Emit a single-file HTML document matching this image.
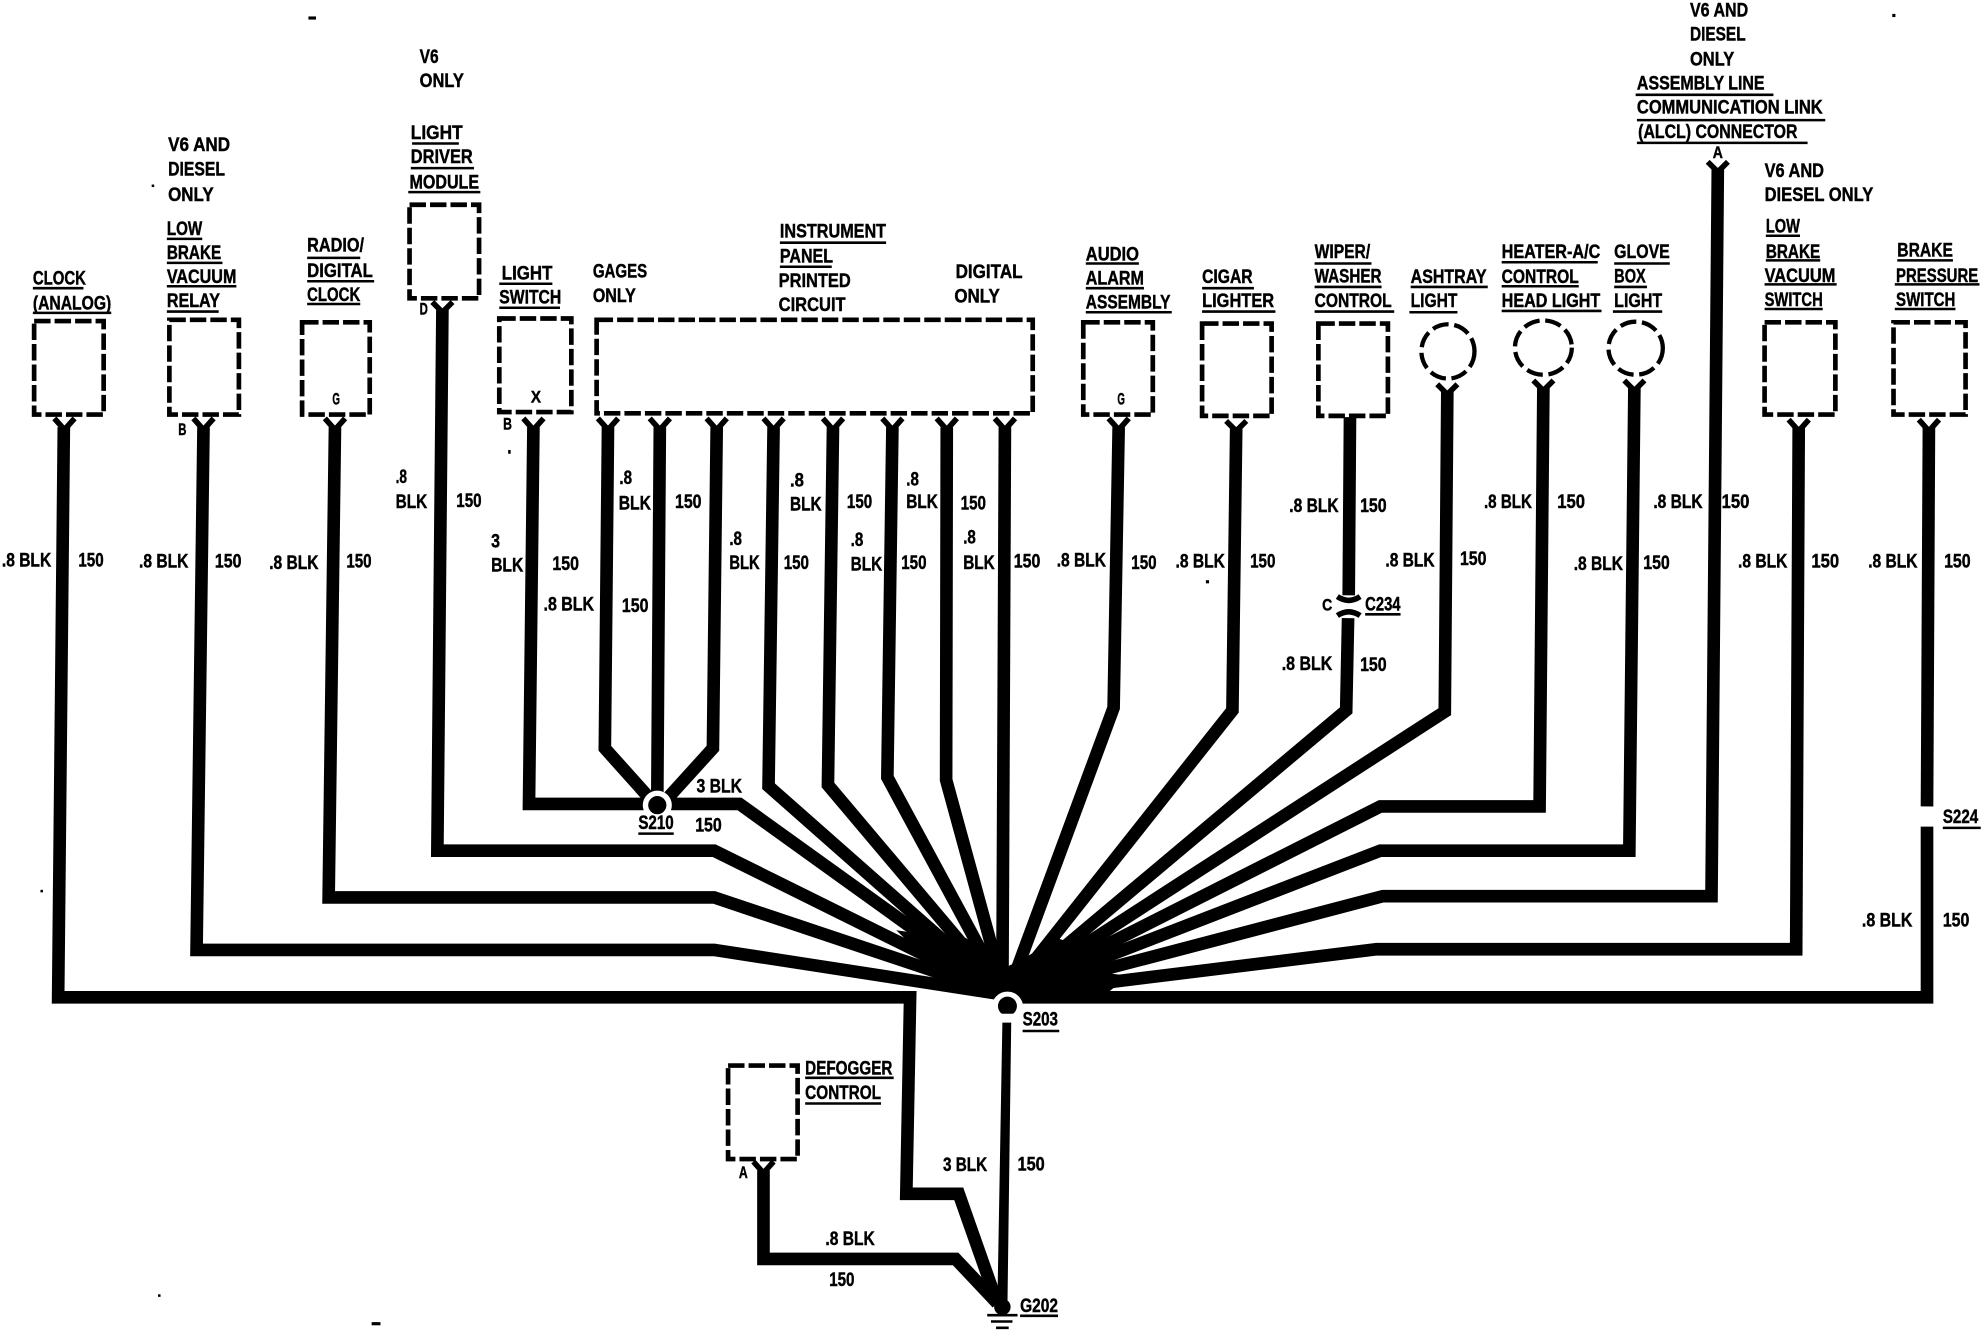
<!DOCTYPE html>
<html><head><meta charset="utf-8"><title>Ground distribution diagram</title>
<style>
html,body{margin:0;padding:0;background:#fff}
svg{display:block;width:1982px;height:1344px}
text{font-family:"Liberation Sans",sans-serif;font-weight:bold;font-size:15.5px;fill:#000;stroke:#000;stroke-width:.35px}
.s{font-size:13.5px}
</style></head><body>
<svg xmlns="http://www.w3.org/2000/svg" viewBox="0 0 1568 1063.3" preserveAspectRatio="none">
<rect width="1568" height="1064" fill="#fff"/>
<!-- boxes -->
<g fill="none" stroke="#000" stroke-width="3.7" stroke-dasharray="13 3.2">
<rect x="27" y="254" width="55" height="74"/>
<rect x="134" y="253" width="55" height="75"/>
<rect x="239" y="255" width="53.5" height="73"/>
<rect x="324" y="162" width="55" height="74"/>
<rect x="395" y="252" width="57" height="74"/>
<rect x="472" y="253" width="345" height="74"/>
<rect x="857" y="255" width="55" height="73"/>
<rect x="951" y="256" width="55" height="73"/>
<rect x="1043" y="256" width="55" height="73"/>
<rect x="1396" y="255" width="56" height="73"/>
<rect x="1498" y="255" width="57" height="73"/>
<rect x="576" y="843" width="55" height="74"/>
</g>
<g fill="none" stroke="#000" stroke-width="3.4" stroke-dasharray="13 4.5">
<ellipse cx="1145.5" cy="278" rx="21" ry="21.5"/>
<ellipse cx="1221" cy="275" rx="22.5" ry="21.5"/>
<ellipse cx="1294" cy="275.5" rx="21.5" ry="21"/>
</g>
<!-- wires -->
<g fill="none" stroke="#000" stroke-width="10" stroke-linejoin="miter">
<path d="M50.5,338 L46,789 H720 L717,944.5 H758.5 L789,1031"/>
<path d="M161,338 L155.5,751.5 H565 L795,787"/>
<path d="M265,338 L260,710 H565 L795,787"/>
<path d="M350,245 L346,673 H565 L795,787"/>
<path d="M422,338 L418.5,636 H510"/>
<path d="M528,636 H585 L795,787"/>
<path d="M481,338 L478.5,592 L517,635"/>
<path d="M522,338 L520,630"/>
<path d="M567,338 L564,592 L525,635"/>
<path d="M612,338 L608,622 L795,787"/>
<path d="M659,338 L655,621 L795,787"/>
<path d="M706,338 L702,615 L795,787"/>
<path d="M749,338 L748.5,617 L795,787"/>
<path d="M795,338 L793,787"/>
<path d="M885,338 L881,560 L797,787"/>
<path d="M978,338 L975,562 L797,787"/>
<path d="M1068,330 L1067,471"/>
<path d="M1066.5,489 L1065,562 L797,787"/>
<path d="M1145,310 L1143,563 L797,787"/>
<path d="M1221,306 L1218,638 H1092 L797,787"/>
<path d="M1293,306 L1289,673 H1092 L797,787"/>
<path d="M1359,133 L1354,709 H1094 L797,787"/>
<path d="M1423,338 L1421,751 H1089 L797,787"/>
<path d="M1526,338 L1524.5,638"/>
<path d="M1524.5,654 V789 H800"/>
<path d="M604,926 V996 H756 L789,1031"/>
</g>
<!-- solid wedge where the fan of wires merges -->
<polygon fill="#000" points="754,775 731,757 709,736 716,737 752,745 764,742 782,755 796,765 809,759 836,742 858,750 856,763 868,769 893,772 878,784 800,790 770,785"/>
<circle cx="520" cy="637" r="11.5" fill="#fff"/>
<circle cx="520" cy="637" r="7.2" fill="#000"/>
<circle cx="797" cy="797" r="12.5" fill="#fff"/>
<circle cx="797" cy="796" r="7.5" fill="#000"/>
<path d="M791,802 H803 V809 H791Z" fill="#fff"/>
<polygon points="793,809 800,809 797,1034 789,1034" fill="#000"/>
<circle cx="793" cy="1034" r="6.5" fill="#000"/>
<!-- Y connectors -->
<g fill="none" stroke="#000" stroke-width="4.4">
<path d="M43,331 L51,340 L59,331"/>
<path d="M153,331 L161,340 L169,331"/>
<path d="M257,331 L265,340 L273,331"/>
<path d="M342,239 L350,247 L358,239"/>
<path d="M414,331 L422,340 L430,331"/>
<path d="M473,331 L481,340 L489,331"/>
<path d="M514,331 L522,340 L530,331"/>
<path d="M559,331 L567,340 L575,331"/>
<path d="M604,331 L612,340 L620,331"/>
<path d="M651,331 L659,340 L667,331"/>
<path d="M698,331 L706,340 L714,331"/>
<path d="M741,331 L749,340 L757,331"/>
<path d="M787,331 L795,340 L803,331"/>
<path d="M877,331 L885,340 L893,331"/>
<path d="M970,333 L978,341 L986,333"/>
<path d="M1137,304 L1145,312 L1153,304"/>
<path d="M1213,301 L1221,309 L1229,301"/>
<path d="M1285,301 L1293,309 L1301,301"/>
<path d="M1351,128 L1359,136 L1367,128"/>
<path d="M1415,332 L1423,341 L1431,332"/>
<path d="M1518,332 L1526,341 L1534,332"/>
<path d="M596,919 L604,928 L612,919"/>
<path d="M1058,472 Q1067,478 1076,472"/>
<path d="M1058,487 Q1067,481 1076,487"/>
</g>
<!-- underlines -->
<path fill="none" stroke="#000" stroke-width="2" d="
M26,228H66 M26,247.5H88
M132,189H160 M132,208H176 M132,226.5H187 M132,246.5H173
M243,204H285 M243,222.5H296 M243,240.5H285
M326,113.5H363 M325,133H375 M323,152H380
M395,224.5H437 M395,243.5H443
M617,192H701 M617,211H658
M859,208.5H901 M859,228H905 M859,247H927
M951,228H992 M951,246.5H1009
M1040,208.5H1085 M1040,227H1093 M1040,246.5H1103
M1116,227H1177 M1115,247H1153
M1188,207.5H1264 M1188,226.5H1249 M1188,246H1267
M1277,208.5H1321 M1277,227H1303 M1276,246.5H1315
M1294,75H1403 M1295,95H1444 M1295,113H1430
M1397,186.5H1424 M1397,206H1440 M1396,225H1453 M1396,244.5H1442
M1501,206H1545 M1499,225H1566 M1499,244.5H1547
M505,659.5H533 M809,815.7H838 M637,852.7H707 M637,873H697
M807,1041H837 M1080,486H1108 M1537,655H1567
M781,1040.5H805 M784,1045.5H801 M788,1050.5H798"/>
<!-- headings -->
<text x="26" y="225" textLength="42" lengthAdjust="spacingAndGlyphs">CLOCK</text>
<text x="26" y="245" textLength="62" lengthAdjust="spacingAndGlyphs">(ANALOG)</text>
<text x="133" y="119.5" textLength="49" lengthAdjust="spacingAndGlyphs">V6 AND</text>
<text x="133" y="139" textLength="45" lengthAdjust="spacingAndGlyphs">DIESEL</text>
<text x="133" y="159" textLength="36" lengthAdjust="spacingAndGlyphs">ONLY</text>
<text x="132" y="186" textLength="28" lengthAdjust="spacingAndGlyphs">LOW</text>
<text x="132" y="205" textLength="43" lengthAdjust="spacingAndGlyphs">BRAKE</text>
<text x="132" y="224" textLength="55" lengthAdjust="spacingAndGlyphs">VACUUM</text>
<text x="132" y="243" textLength="42" lengthAdjust="spacingAndGlyphs">RELAY</text>
<text x="243" y="199" textLength="45" lengthAdjust="spacingAndGlyphs">RADIO/</text>
<text x="243" y="219" textLength="52" lengthAdjust="spacingAndGlyphs">DIGITAL</text>
<text x="243" y="238" textLength="42" lengthAdjust="spacingAndGlyphs">CLOCK</text>
<text x="332" y="50" textLength="15" lengthAdjust="spacingAndGlyphs">V6</text>
<text x="332" y="69" textLength="35" lengthAdjust="spacingAndGlyphs">ONLY</text>
<text x="325" y="110" textLength="41" lengthAdjust="spacingAndGlyphs">LIGHT</text>
<text x="325" y="129" textLength="49" lengthAdjust="spacingAndGlyphs">DRIVER</text>
<text x="324" y="149" textLength="55" lengthAdjust="spacingAndGlyphs">MODULE</text>
<text x="397" y="221" textLength="40" lengthAdjust="spacingAndGlyphs">LIGHT</text>
<text x="395" y="240" textLength="49" lengthAdjust="spacingAndGlyphs">SWITCH</text>
<text x="469" y="219.5" textLength="43" lengthAdjust="spacingAndGlyphs">GAGES</text>
<text x="469" y="239" textLength="34" lengthAdjust="spacingAndGlyphs">ONLY</text>
<text x="617" y="188" textLength="84" lengthAdjust="spacingAndGlyphs">INSTRUMENT</text>
<text x="617" y="207.5" textLength="42" lengthAdjust="spacingAndGlyphs">PANEL</text>
<text x="616" y="227" textLength="57" lengthAdjust="spacingAndGlyphs">PRINTED</text>
<text x="616" y="246" textLength="53" lengthAdjust="spacingAndGlyphs">CIRCUIT</text>
<text x="756" y="220" textLength="53" lengthAdjust="spacingAndGlyphs">DIGITAL</text>
<text x="755" y="239.5" textLength="36" lengthAdjust="spacingAndGlyphs">ONLY</text>
<text x="859" y="206" textLength="42" lengthAdjust="spacingAndGlyphs">AUDIO</text>
<text x="859" y="225" textLength="46" lengthAdjust="spacingAndGlyphs">ALARM</text>
<text x="859" y="244" textLength="67" lengthAdjust="spacingAndGlyphs">ASSEMBLY</text>
<text x="951" y="224" textLength="40" lengthAdjust="spacingAndGlyphs">CIGAR</text>
<text x="951" y="243" textLength="57" lengthAdjust="spacingAndGlyphs">LIGHTER</text>
<text x="1040" y="204" textLength="44" lengthAdjust="spacingAndGlyphs">WIPER/</text>
<text x="1040" y="223.5" textLength="53" lengthAdjust="spacingAndGlyphs">WASHER</text>
<text x="1040" y="243" textLength="61" lengthAdjust="spacingAndGlyphs">CONTROL</text>
<text x="1116" y="224" textLength="60" lengthAdjust="spacingAndGlyphs">ASHTRAY</text>
<text x="1116" y="243" textLength="37" lengthAdjust="spacingAndGlyphs">LIGHT</text>
<text x="1188" y="204" textLength="78" lengthAdjust="spacingAndGlyphs">HEATER-A/C</text>
<text x="1188" y="224" textLength="61" lengthAdjust="spacingAndGlyphs">CONTROL</text>
<text x="1188" y="243" textLength="78" lengthAdjust="spacingAndGlyphs">HEAD LIGHT</text>
<text x="1277" y="204" textLength="44" lengthAdjust="spacingAndGlyphs">GLOVE</text>
<text x="1277" y="223.5" textLength="25" lengthAdjust="spacingAndGlyphs">BOX</text>
<text x="1277" y="243" textLength="38" lengthAdjust="spacingAndGlyphs">LIGHT</text>
<text x="1337" y="13" textLength="46" lengthAdjust="spacingAndGlyphs">V6 AND</text>
<text x="1337" y="32" textLength="44" lengthAdjust="spacingAndGlyphs">DIESEL</text>
<text x="1337" y="52" textLength="35" lengthAdjust="spacingAndGlyphs">ONLY</text>
<text x="1295" y="71" textLength="101" lengthAdjust="spacingAndGlyphs">ASSEMBLY LINE</text>
<text x="1295" y="90" textLength="147" lengthAdjust="spacingAndGlyphs">COMMUNICATION LINK</text>
<text x="1296" y="109" textLength="126" lengthAdjust="spacingAndGlyphs">(ALCL) CONNECTOR</text>
<text x="1396" y="140" textLength="47" lengthAdjust="spacingAndGlyphs">V6 AND</text>
<text x="1396" y="159" textLength="86" lengthAdjust="spacingAndGlyphs">DIESEL ONLY</text>
<text x="1397" y="184" textLength="27" lengthAdjust="spacingAndGlyphs">LOW</text>
<text x="1397" y="204" textLength="43" lengthAdjust="spacingAndGlyphs">BRAKE</text>
<text x="1396" y="223" textLength="56" lengthAdjust="spacingAndGlyphs">VACUUM</text>
<text x="1396" y="242" textLength="46" lengthAdjust="spacingAndGlyphs">SWITCH</text>
<text x="1501" y="203" textLength="44" lengthAdjust="spacingAndGlyphs">BRAKE</text>
<text x="1500" y="223" textLength="65" lengthAdjust="spacingAndGlyphs">PRESSURE</text>
<text x="1500" y="242" textLength="47" lengthAdjust="spacingAndGlyphs">SWITCH</text>
<text x="637" y="850" textLength="69" lengthAdjust="spacingAndGlyphs">DEFOGGER</text>
<text x="637" y="869.6" textLength="60" lengthAdjust="spacingAndGlyphs">CONTROL</text>
<!-- pin letters -->
<text class="s" x="263" y="320" textLength="6" lengthAdjust="spacingAndGlyphs">G</text>
<text class="s" x="884" y="320" textLength="6" lengthAdjust="spacingAndGlyphs">G</text>
<text class="s" x="420" y="318.5" textLength="8" lengthAdjust="spacingAndGlyphs">X</text>
<text class="s" x="141" y="344" textLength="6.5" lengthAdjust="spacingAndGlyphs">B</text>
<text class="s" x="398" y="340" textLength="7" lengthAdjust="spacingAndGlyphs">B</text>
<text class="s" x="332" y="249" textLength="6.5" lengthAdjust="spacingAndGlyphs">D</text>
<text class="s" x="1355" y="125" textLength="8" lengthAdjust="spacingAndGlyphs">A</text>
<text class="s" x="584.5" y="932" textLength="7" lengthAdjust="spacingAndGlyphs">A</text>
<text class="s" x="1046" y="483" textLength="8" lengthAdjust="spacingAndGlyphs">C</text>
<!-- wire labels -->
<text x="1.5" y="448" textLength="39" lengthAdjust="spacingAndGlyphs">.8 BLK</text>
<text x="62" y="448" textLength="20" lengthAdjust="spacingAndGlyphs">150</text>
<text x="110" y="449" textLength="39" lengthAdjust="spacingAndGlyphs">.8 BLK</text>
<text x="170" y="449" textLength="21" lengthAdjust="spacingAndGlyphs">150</text>
<text x="213" y="450" textLength="39" lengthAdjust="spacingAndGlyphs">.8 BLK</text>
<text x="274" y="449" textLength="20" lengthAdjust="spacingAndGlyphs">150</text>
<text x="313" y="382" textLength="9" lengthAdjust="spacingAndGlyphs">.8</text>
<text x="313" y="402" textLength="25" lengthAdjust="spacingAndGlyphs">BLK</text>
<text x="361" y="401" textLength="20" lengthAdjust="spacingAndGlyphs">150</text>
<text x="388.5" y="433" textLength="7" lengthAdjust="spacingAndGlyphs">3</text>
<text x="388.5" y="452" textLength="25.5" lengthAdjust="spacingAndGlyphs">BLK</text>
<text x="437" y="451" textLength="21" lengthAdjust="spacingAndGlyphs">150</text>
<text x="430" y="483" textLength="40" lengthAdjust="spacingAndGlyphs">.8 BLK</text>
<text x="492" y="484" textLength="21" lengthAdjust="spacingAndGlyphs">150</text>
<text x="490" y="383" textLength="10" lengthAdjust="spacingAndGlyphs">.8</text>
<text x="489.5" y="403" textLength="25.5" lengthAdjust="spacingAndGlyphs">BLK</text>
<text x="534" y="402" textLength="21" lengthAdjust="spacingAndGlyphs">150</text>
<text x="577" y="431" textLength="10" lengthAdjust="spacingAndGlyphs">.8</text>
<text x="577" y="450" textLength="24" lengthAdjust="spacingAndGlyphs">BLK</text>
<text x="620" y="450" textLength="20" lengthAdjust="spacingAndGlyphs">150</text>
<text x="625" y="385" textLength="11" lengthAdjust="spacingAndGlyphs">.8</text>
<text x="625" y="404" textLength="25" lengthAdjust="spacingAndGlyphs">BLK</text>
<text x="670" y="402" textLength="20" lengthAdjust="spacingAndGlyphs">150</text>
<text x="673" y="432" textLength="10" lengthAdjust="spacingAndGlyphs">.8</text>
<text x="673" y="451.5" textLength="25" lengthAdjust="spacingAndGlyphs">BLK</text>
<text x="713" y="450" textLength="20" lengthAdjust="spacingAndGlyphs">150</text>
<text x="717" y="384" textLength="10" lengthAdjust="spacingAndGlyphs">.8</text>
<text x="717" y="402" textLength="25" lengthAdjust="spacingAndGlyphs">BLK</text>
<text x="760" y="403" textLength="20" lengthAdjust="spacingAndGlyphs">150</text>
<text x="762" y="430" textLength="10" lengthAdjust="spacingAndGlyphs">.8</text>
<text x="762" y="450" textLength="25" lengthAdjust="spacingAndGlyphs">BLK</text>
<text x="802" y="449" textLength="21" lengthAdjust="spacingAndGlyphs">150</text>
<text x="836" y="448" textLength="39" lengthAdjust="spacingAndGlyphs">.8 BLK</text>
<text x="895" y="450" textLength="20" lengthAdjust="spacingAndGlyphs">150</text>
<text x="930" y="449" textLength="39" lengthAdjust="spacingAndGlyphs">.8 BLK</text>
<text x="989" y="449" textLength="20" lengthAdjust="spacingAndGlyphs">150</text>
<text x="1020" y="405" textLength="39" lengthAdjust="spacingAndGlyphs">.8 BLK</text>
<text x="1076" y="405" textLength="21" lengthAdjust="spacingAndGlyphs">150</text>
<text x="1014" y="530" textLength="40" lengthAdjust="spacingAndGlyphs">.8 BLK</text>
<text x="1076" y="531" textLength="21" lengthAdjust="spacingAndGlyphs">150</text>
<text x="1096" y="448" textLength="39" lengthAdjust="spacingAndGlyphs">.8 BLK</text>
<text x="1155" y="447" textLength="21" lengthAdjust="spacingAndGlyphs">150</text>
<text x="1174" y="402" textLength="38" lengthAdjust="spacingAndGlyphs">.8 BLK</text>
<text x="1232" y="402" textLength="22" lengthAdjust="spacingAndGlyphs">150</text>
<text x="1245" y="451" textLength="39" lengthAdjust="spacingAndGlyphs">.8 BLK</text>
<text x="1300" y="450" textLength="21" lengthAdjust="spacingAndGlyphs">150</text>
<text x="1308" y="402" textLength="39" lengthAdjust="spacingAndGlyphs">.8 BLK</text>
<text x="1362" y="402" textLength="22" lengthAdjust="spacingAndGlyphs">150</text>
<text x="1375" y="449" textLength="39" lengthAdjust="spacingAndGlyphs">.8 BLK</text>
<text x="1433" y="449" textLength="22" lengthAdjust="spacingAndGlyphs">150</text>
<text x="1478" y="449" textLength="39" lengthAdjust="spacingAndGlyphs">.8 BLK</text>
<text x="1538" y="449" textLength="21" lengthAdjust="spacingAndGlyphs">150</text>
<text x="1473" y="733" textLength="40" lengthAdjust="spacingAndGlyphs">.8 BLK</text>
<text x="1537" y="733" textLength="21" lengthAdjust="spacingAndGlyphs">150</text>
<text x="551" y="627" textLength="36" lengthAdjust="spacingAndGlyphs">3 BLK</text>
<text x="550" y="658" textLength="21" lengthAdjust="spacingAndGlyphs">150</text>
<text x="746" y="926.5" textLength="35" lengthAdjust="spacingAndGlyphs">3 BLK</text>
<text x="805" y="926" textLength="21.5" lengthAdjust="spacingAndGlyphs">150</text>
<text x="653" y="985" textLength="39" lengthAdjust="spacingAndGlyphs">.8 BLK</text>
<text x="656" y="1017.5" textLength="20" lengthAdjust="spacingAndGlyphs">150</text>
<!-- splice labels -->
<text x="505" y="656" textLength="28" lengthAdjust="spacingAndGlyphs">S210</text>
<text x="809" y="811.5" textLength="28" lengthAdjust="spacingAndGlyphs">S203</text>
<text x="1080" y="483" textLength="28" lengthAdjust="spacingAndGlyphs">C234</text>
<text x="1537" y="651" textLength="28" lengthAdjust="spacingAndGlyphs">S224</text>
<text x="807" y="1038" textLength="30" lengthAdjust="spacingAndGlyphs">G202</text>
<!-- specks -->
<g fill="#000">
<rect x="244" y="13" width="6" height="2.5"/><rect x="120" y="146" width="2" height="2"/>
<rect x="1497" y="11" width="2.5" height="2.5"/><rect x="402" y="356" width="2" height="3"/>
<rect x="294" y="1046" width="7" height="2.5"/><rect x="32" y="704" width="2" height="2"/>
<rect x="125" y="1024" width="2" height="2"/><rect x="954" y="459" width="2.5" height="2.5"/>
</g>
</svg>
</body></html>
